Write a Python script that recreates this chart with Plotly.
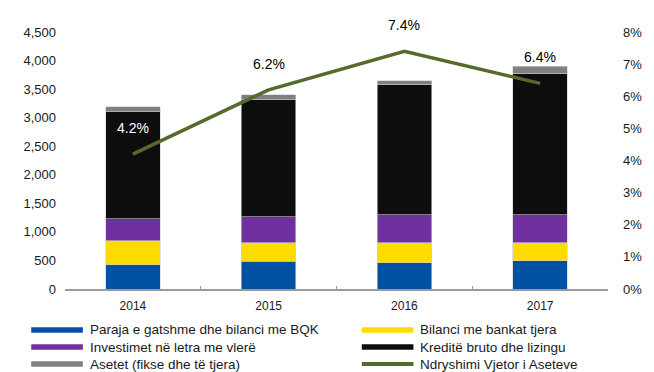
import plotly.graph_objects as go

years = ["2014", "2015", "2016", "2017"]
paraja = [425, 490, 462, 492]
bilanci = [420, 320, 352, 317]
investimet = [385, 455, 487, 492]
kredite = [1885, 2055, 2273, 2478]
asetet = [80, 78, 70, 118]
ndryshimi = [0.042, 0.062, 0.074, 0.064]
label_colors = ["white", "black", "black", "black"]

bar_series = [
    ("Paraja e gatshme dhe bilanci me BQK", paraja, "#0050A4"),
    ("Bilanci me bankat tjera", bilanci, "#FFDC00"),
    ("Investimet në letra me vlerë", investimet, "#7030A0"),
    ("Kreditë bruto dhe lizingu", kredite, "#0D0D0D"),
    ("Asetet (fikse dhe të tjera)", asetet, "#808080"),
]
line_name = "Ndryshimi Vjetor i Aseteve"
green = "#566B2B"
FONT = "Liberation Sans"
W, H = 654, 372
ML, MR, MT, MB = 65, 42, 32, 83
PW, PH = W - ML - MR, H - MT - MB

fig = go.Figure()
for name, vals, col in bar_series:
    fig.add_trace(go.Bar(x=years, y=vals, name=name,
                         marker=dict(color=col, line=dict(color="#cfcfcf", width=0.6)),
                         width=0.4, showlegend=False))

fig.add_trace(go.Scatter(x=years, y=ndryshimi, yaxis="y2", mode="lines", name=line_name,
                         line=dict(color=green, width=3.5), showlegend=False))

for i, (v, c) in enumerate(zip(ndryshimi, label_colors)):
    fig.add_annotation(x=i, y=v, xref="x", yref="y2", text=f"{v*100:.1f}%", showarrow=False,
                       yshift=26, font=dict(family=FONT, size=14, color=c))

# legend drawn as swatches + text, two columns, three rows
def px_to_paper(px, py):
    return (px - ML) / PW, (H - MB - py) / PH

entries = [(n, c, 5.5) for n, _, c in bar_series] + [(line_name, green, 4)]
col_sym_x = [31, 364]
sym_len = 52
text_gap = 5
row_y = [330, 347, 364]
for i, (name, col, w) in enumerate(entries):
    c, r = i % 2, i // 2
    x0, y = px_to_paper(col_sym_x[c], row_y[r])
    x1, _ = px_to_paper(col_sym_x[c] + sym_len, row_y[r])
    xt, _ = px_to_paper(col_sym_x[c] + sym_len + text_gap, row_y[r])
    fig.add_shape(type="line", xref="paper", yref="paper", x0=x0, x1=x1, y0=y, y1=y,
                  line=dict(color=col, width=w))
    fig.add_annotation(x=xt, y=y, xref="paper", yref="paper", text=name, showarrow=False,
                       xanchor="left", yanchor="middle",
                       font=dict(family=FONT, size=13.5, color="#1a1a1a"))

fig.update_layout(
    width=W, height=H,
    margin=dict(l=ML, r=MR, t=MT, b=MB),
    plot_bgcolor="white", paper_bgcolor="white",
    barmode="stack",
    showlegend=False,
    font=dict(family=FONT, size=12, color="#1a1a1a"),
    xaxis=dict(type="category", range=[-0.5, 3.5], showline=True, linecolor="#9a9a9a", linewidth=1.5,
               ticks="inside", tickson="boundaries", ticklen=3, tickcolor="#9a9a9a",
               tickfont=dict(size=12), showgrid=False, ticklabelstandoff=5),
    yaxis=dict(range=[0, 4500], dtick=500, tickformat=",", showgrid=False, zeroline=False,
               tickfont=dict(size=13), ticklabelstandoff=8),
    yaxis2=dict(range=[0, 0.08], dtick=0.01, tickformat=".0%", overlaying="y", side="right",
                showgrid=False, zeroline=False, tickfont=dict(size=13), ticklabelstandoff=14),
    bargap=0.6,
)

fig.write_html("out.html")
